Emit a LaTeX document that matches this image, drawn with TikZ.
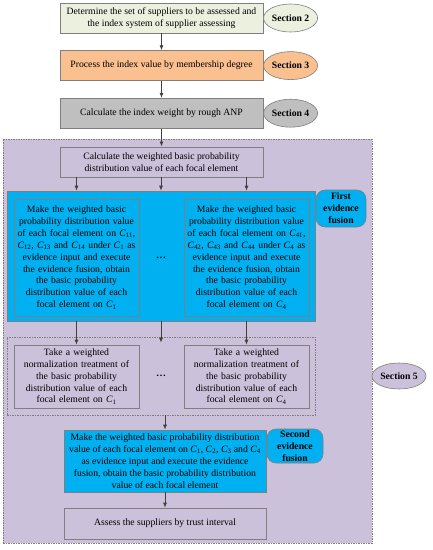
\documentclass[tikz,border=0pt]{standalone}
\usepackage{fontspec}
\setmainfont{Liberation Serif}
\usetikzlibrary{arrows.meta, positioning, calc, shapes.geometric}
\definecolor{boxgreen}{HTML}{EBF1DE}
\definecolor{boxorange}{HTML}{FAC090}
\definecolor{boxgray}{HTML}{BFBFBF}
\definecolor{boxpurple}{HTML}{CCC1DA}
\definecolor{boxblue}{HTML}{00B0F0}
\definecolor{edgegray}{HTML}{7F7F7F}
\definecolor{linegray}{HTML}{404040}
\newcommand{\Csub}[1]{\textit{C}\textsubscript{#1}}

\begin{document}
\begin{tikzpicture}[x=1pt, y=-1pt, every node/.style={draw=edgegray, line width=0.6pt, rectangle, align=center, inner sep=1pt, font=\fontsize{9.7}{11.9}\selectfont}, stepbox/.style={minimum width=203pt, minimum height=30pt}, subbox/.style={minimum width=125pt, text width=123pt}, secnote/.style={ellipse, minimum width=54pt, minimum height=28pt, inner sep=0pt, font=\fontsize{9.7}{11.9}\selectfont\bfseries}, fusenote/.style={rounded corners=9pt, fill=boxblue, inner sep=0pt, font=\fontsize{9.7}{11.9}\selectfont\bfseries}, region/.style={dash pattern=on 1.5pt off 1pt, minimum width=#1}, dotsnode/.style={draw=none, font=\fontsize{10}{12}\selectfont\bfseries}, arrow/.style={draw=linegray, line width=0.8pt, -{Latex[length=5pt, width=4pt]}}]
\useasboundingbox (0,0) rectangle (432,550);
% top chain
\node (select) [stepbox, fill=boxgreen] at (161.5,18) {Determine the set of suppliers to be assessed and\\the index system of supplier assessing};
\node (sec2) [secnote, fill=boxgreen, right=0pt of select] {Section 2};
\node (member) [stepbox, fill=boxorange, below=17pt of select] {Process the index value by membership degree};
\node (sec3) [secnote, fill=boxorange, right=0pt of member] {Section 3};
\node (anp) [stepbox, fill=boxgray, below=17pt of member] {Calculate the index weight by rough ANP};
\node (sec4) [secnote, fill=boxgray, right=0pt of anp] {Section 4};
% section 5 area
\node (area) [region=369pt, minimum height=404pt, fill=boxpurple] at (187.5,341) {};
\node (sec5) [secnote, fill=boxpurple, minimum height=26pt] at (399,376) {Section 5};
\node (wbpa) [stepbox, fill=boxpurple, below=18pt of anp] {Calculate the weighted basic probability\\distribution value of each focal element};
% first evidence fusion
\node (blue1) [minimum width=308pt, minimum height=130pt, fill=boxblue] at (161,256) {};
\node (fuse1) [subbox, minimum height=117pt, fill=boxblue] at (76.5,257.5) {Make the weighted basic\\probability distribution value\\of each focal element on \Csub{11},\\\Csub{12}, \Csub{13} and \Csub{14} under \Csub{1} as\\evidence input and execute\\the evidence fusion, obtain\\the basic probability\\distribution value of each\\focal element on \Csub{1}};
\node (fuse4) [subbox, minimum height=117pt, fill=boxblue] at (246.5,257.5) {Make the weighted basic\\probability distribution value\\of each focal element on \Csub{41},\\\Csub{42}, \Csub{43} and \Csub{44} under \Csub{4} as\\evidence input and execute\\the evidence fusion, obtain\\the basic probability\\distribution value of each\\focal element on \Csub{4}};
\node (dots1) [dotsnode] at (161,258) {\dots};
\node (first) [fusenote, minimum width=50pt, minimum height=37pt] at (341,208.5) {First\\evidence\\fusion};
% normalization
\node (normarea) [region=308pt, minimum height=78pt] at (161,376) {};
\node (norm1) [subbox, minimum height=63pt] at (76.5,376.5) {Take a weighted\\normalization treatment of\\the basic probability\\distribution value of each\\focal element on \Csub{1}};
\node (norm4) [subbox, minimum height=63pt] at (246.5,376.5) {Take a weighted\\normalization treatment of\\the basic probability\\distribution value of each\\focal element on \Csub{4}};
\node (dots2) [dotsnode] at (161,376) {\dots};
% second evidence fusion
\node (fuse) [minimum width=202pt, minimum height=62pt, fill=boxblue] at (165,461) {Make the weighted basic probability distribution\\value of each focal element on \Csub{1}, \Csub{2}, \Csub{3} and \Csub{4}\\as evidence input and execute the evidence\\fusion, obtain the basic probability distribution\\value of each focal element};
\node (second) [fusenote, minimum width=56pt, minimum height=34pt] at (295,446) {Second\\evidence\\fusion};
\node (assess) [minimum width=202pt, minimum height=31pt, fill=boxpurple] at (165,523.5) {Assess the suppliers by trust interval};
% connectors
\draw[arrow] (select) -- (member);
\draw[arrow] (member) -- (anp);
\draw[arrow] (anp) -- (wbpa);
\draw[arrow] (wbpa.south -| fuse1) -- (blue1.north -| fuse1);
\draw[arrow] (wbpa.south -| dots1) -- (blue1.north -| dots1);
\draw[arrow] (wbpa.south -| fuse4) -- (blue1.north -| fuse4);
\draw[arrow] (blue1.south -| fuse1) -- (norm1.north);
\draw[arrow] ($(blue1.south -| dots1)$) -- ($(norm1.north -| dots1)+(0,-2)$);
\draw[arrow] (blue1.south -| fuse4) -- (norm4.north);
\draw[arrow] (normarea.south -| fuse) -- (fuse.north);
\draw[arrow] (fuse) -- (assess);
\end{tikzpicture}
\end{document}
